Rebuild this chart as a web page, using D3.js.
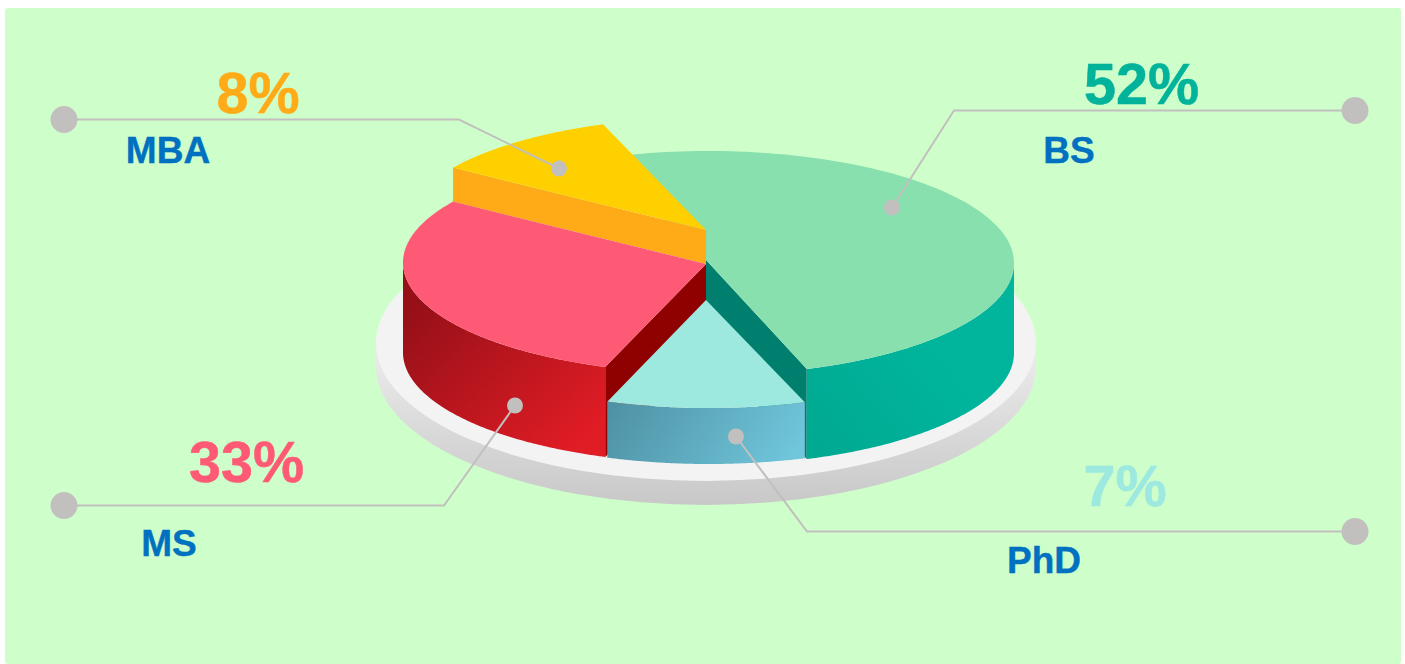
<!DOCTYPE html>
<html>
<head>
<meta charset="utf-8">
<script src="https://cdnjs.cloudflare.com/ajax/libs/d3/7.8.5/d3.min.js"></script>
<style>
html,body{margin:0;padding:0;background:#fff;overflow:hidden}
svg{display:block}
text{font-family:"Liberation Sans",Arial,sans-serif;font-weight:700;text-anchor:middle}
</style>
</head>
<body>
<script>
// Data
const categories = ["BS", "PhD", "MS", "MBA"];
const percentLabels = [52, 7, 33, 8];
// Share of the circle each wedge actually occupies in the drawing (%)
const drawnShares = [50.4, 10.7, 28.75, 10.15];

const W = 1405, H = 664;
const svg = d3.select("body").append("svg").attr("width", W).attr("height", H);
const defs = svg.append("defs");
const rad = d => d * Math.PI / 180;

function grad(id, stops, x1, y1, x2, y2) {
  const g = defs.append("linearGradient").attr("id", id)
    .attr("gradientUnits", "userSpaceOnUse")
    .attr("x1", x1).attr("y1", y1).attr("x2", x2).attr("y2", y2);
  stops.forEach(([o, c]) => g.append("stop").attr("offset", o).attr("stop-color", c));
}
grad("wallMS", [[0, "#971018"], [1, "#E01C25"]], 425, 300, 570, 450);
grad("wallPhD", [[0, "#4F92A5"], [1, "#70C6DB"]], 625, 385, 780, 480);
grad("wallBS", [[0, "#00A992"], [1, "#00B59C"]], 810, 440, 930, 340);
grad("plinth", [[0, "#EDEDED"], [1, "#C8C8C8"]], 0, 345, 0, 505);

// Page panel
svg.append("rect").attr("x", 5).attr("y", 8).attr("width", 1396).attr("height", 656)
  .attr("rx", 3).attr("fill", "#CEFFCA");

// Plinth under the pie
const plinth = { cx: 706, cy: 343, rx: 330, ry: 138, depth: 24 };
svg.append("path")
  .attr("d", `M${plinth.cx - plinth.rx},${plinth.cy}
    V${plinth.cy + plinth.depth}
    A${plinth.rx},${plinth.ry} 0 0 0 ${plinth.cx + plinth.rx},${plinth.cy + plinth.depth}
    V${plinth.cy} Z`)
  .attr("fill", "url(#plinth)");
svg.append("ellipse")
  .attr("cx", plinth.cx).attr("cy", plinth.cy)
  .attr("rx", plinth.rx).attr("ry", plinth.ry)
  .attr("fill", "#F3F3F3");

// Wedge angles come from d3.pie
const arcs = d3.pie().sort(null).value(d => d)
  .startAngle(rad(339.8)).endAngle(rad(339.8 + 360))(drawnShares);

// Each wedge sits at its own elevation
const look = {
  BS:  { cx: 708.5, cy: 263,   rx: 305.5, ry: 112, ax: 706, ay: 260, depth: 90,
         top: "#88E0AE", inner: "#007E6E", wall: "url(#wallBS)", z: 0 },
  MBA: { cx: 708.5, cy: 228.5, rx: 305.5, ry: 111, ax: 706, ay: 230, depth: 34,
         top: "#FFD000", inner: "#FFAB17", wall: null, z: 1 },
  MS:  { cx: 708.5, cy: 262.5, rx: 305.5, ry: 111, ax: 706, ay: 264, depth: 90,
         top: "#FF5A75", inner: "#8F0000", wall: "url(#wallMS)", z: 2 },
  PhD: { cx: 708.5, cy: 300,   rx: 299.5, ry: 108, ax: 706, ay: 300, depth: 56,
         top: "#9DE9E0", inner: null, wall: "url(#wallPhD)", z: 3 }
};

const line = d3.line();
const pt = (g, a, dy = 0) => [g.cx + g.rx * Math.sin(a), g.cy - g.ry * Math.cos(a) + dy];
const rim = (g, a0, a1, dy = 0) =>
  d3.range(0, 121).map(i => pt(g, a0 + (a1 - a0) * i / 120, dy));
const norm = a => a >= 2 * Math.PI ? a - 2 * Math.PI : a;

const wedges = categories
  .map((c, i) => ({ name: c, arc: arcs[i], g: look[c] }))
  .sort((p, q) => p.g.z - q.g.z);

wedges.forEach(({ name, arc, g }) => {
  const s = svg.append("g").attr("class", "wedge-" + name);
  const a0 = arc.startAngle, a1 = arc.endAngle;
  const pStart = pt(g, a0), pEnd = pt(g, a1);

  // Cut face that is visible from the front
  if (g.inner) {
    const edge = name === "BS" ? pEnd : pStart;
    s.append("path").attr("fill", g.inner).attr("d", line([
      [g.ax, g.ay], edge, [edge[0], edge[1] + g.depth], [g.ax, g.ay + g.depth]
    ]) + "Z");
  }

  // Outer wall: only the part of the rim facing the viewer
  if (g.wall) {
    let w0 = norm(a0), w1 = norm(a1);
    if (name === "BS") w0 = rad(90);
    if (name === "MS") w1 = rad(270);
    const top = rim(g, w0, w1), bottom = rim(g, w1, w0, g.depth);
    s.append("path").attr("fill", g.wall).attr("d", line(top.concat(bottom)) + "Z");
  }

  // Top face
  s.append("path").attr("fill", g.top)
    .attr("d", line([[g.ax, g.ay]].concat(rim(g, a0, a1))) + "Z");
});

// Callouts: outer dot, elbow, anchor dot on the wedge, and the two texts
const callouts = [
  { name: "MBA", pts: [[64, 119.5], [459, 119.5], [559, 168.5]], px: 258, py: 113, lx: 168, ly: 163, color: "#FFAB17" },
  { name: "BS",  pts: [[1355, 110.5], [954, 110.5], [892, 207.5]], px: 1141.5, py: 104, lx: 1069, ly: 163, color: "#00B39A" },
  { name: "MS",  pts: [[64, 505.5], [444, 505.5], [515, 405.5]], px: 246.5, py: 482, lx: 169, ly: 556, color: "#FF5A75" },
  { name: "PhD", pts: [[1355, 531.5], [807, 531.5], [736, 436.5]], px: 1125, py: 506, lx: 1044, ly: 573, color: "#9DE9E0" }
];
const lineColor = "#C2BFBF";
callouts.forEach(c => {
  const i = categories.indexOf(c.name);
  svg.append("path").attr("d", line(c.pts)).attr("fill", "none")
    .attr("stroke", lineColor).attr("stroke-width", 2);
  svg.append("circle").attr("cx", c.pts[0][0]).attr("cy", c.pts[0][1]).attr("r", 13.5).attr("fill", lineColor);
  svg.append("circle").attr("cx", c.pts[2][0]).attr("cy", c.pts[2][1]).attr("r", 8).attr("fill", lineColor);
  svg.append("text").attr("x", c.px).attr("y", c.py).attr("font-size", 57.5)
    .attr("fill", c.color).attr("stroke", c.color).attr("stroke-width", 0.5)
    .text(percentLabels[i] + "%");
  svg.append("text").attr("x", c.lx).attr("y", c.ly).attr("font-size", 37)
    .attr("fill", "#0070C0").attr("stroke", "#0070C0").attr("stroke-width", 0.4)
    .text(categories[i]);
});
</script>
</body>
</html>
